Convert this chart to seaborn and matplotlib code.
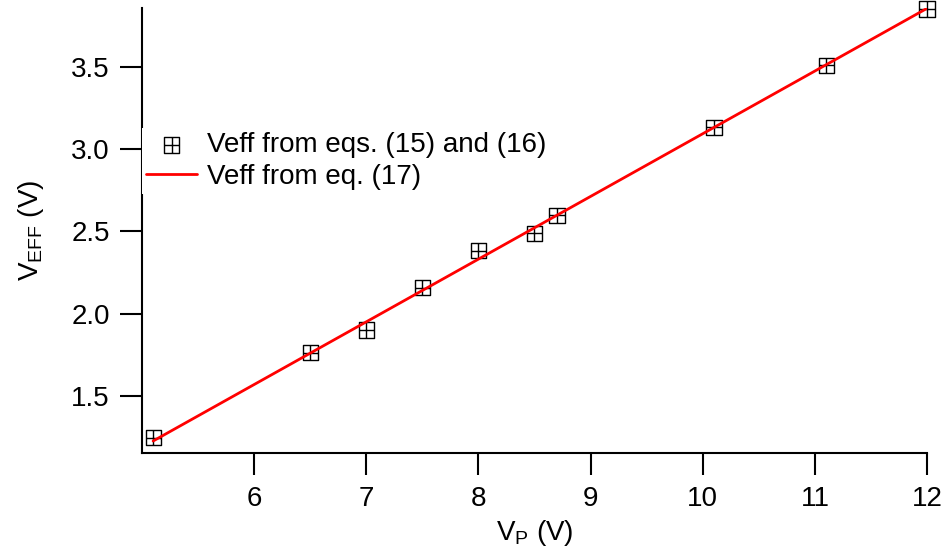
import numpy as np
import pandas as pd
import matplotlib
matplotlib.use("Agg")
import matplotlib.pyplot as plt
from matplotlib.path import Path
import seaborn as sns

# Measured points (eqs. 15 and 16)
vp_points = [5.1, 6.5, 7.0, 7.5, 8.0, 8.5, 8.7, 10.1, 11.1, 12.0]
veff_points = [1.244, 1.762, 1.90, 2.159, 2.384, 2.488, 2.598, 3.134, 3.512, 3.854]

# Model line (eq. 17)
vp_line = [5.1, 12.0]
veff_line = [1.225, 3.858]

x_ticks = [6, 7, 8, 9, 10, 11, 12]
y_ticks = [1.5, 2.0, 2.5, 3.0, 3.5]

sns.set_theme(style="ticks")
plt.rcParams["font.family"] = ["Liberation Sans", "DejaVu Sans"]
plt.rcParams["mathtext.fontset"] = "custom"
plt.rcParams["mathtext.rm"] = "Liberation Sans"
plt.rcParams["mathtext.it"] = "Liberation Sans"
plt.rcParams["text.color"] = "black"
plt.rcParams["axes.labelcolor"] = "black"
plt.rcParams["xtick.color"] = "black"
plt.rcParams["ytick.color"] = "black"

FS = 20

fig = plt.figure(figsize=(9.46, 5.54), dpi=100)
ax = fig.add_axes([0.150, 0.1823, 0.830, 0.8033])

# square with a cross inside
box_plus = Path(
    [(-1, -1), (1, -1), (1, 1), (-1, 1), (-1, -1),
     (-1, 0), (1, 0), (0, -1), (0, 1)],
    [Path.MOVETO, Path.LINETO, Path.LINETO, Path.LINETO, Path.CLOSEPOLY,
     Path.MOVETO, Path.LINETO, Path.MOVETO, Path.LINETO],
)

pts = pd.DataFrame({"vp": vp_points, "veff": veff_points})
line = pd.DataFrame({"vp": vp_line, "veff": veff_line})

sns.scatterplot(data=pts, x="vp", y="veff", ax=ax, marker=box_plus, s=120,
                facecolors="none", edgecolor="black", linewidths=1.0,
                color="black", label="Veff from eqs. (15) and (16)",
                clip_on=False, zorder=3)
sns.lineplot(data=line, x="vp", y="veff", ax=ax, color="#ff0000", lw=2.0,
             label="Veff from eq. (17)", zorder=4)

ax.set_xlim(5.0, 12.0)
ax.set_ylim(1.152, 3.86)
ax.set_xticks(x_ticks)
ax.set_xticklabels([str(t) for t in x_ticks])
ax.set_yticks(y_ticks)
ax.set_yticklabels([f"{t:.1f}" for t in y_ticks])

for side in ("top", "right"):
    ax.spines[side].set_visible(False)
for side in ("left", "bottom"):
    ax.spines[side].set_linewidth(1.5)
    ax.spines[side].set_color("black")

ax.tick_params(axis="both", direction="out", length=16, width=1.5,
               colors="black", labelsize=FS)
ax.tick_params(axis="x", pad=8)
ax.tick_params(axis="y", pad=7)

ax.set_xlabel("V$_\\mathrm{P}$ (V)", fontsize=FS, labelpad=4, color="black")
ax.set_ylabel("V$_\\mathrm{EFF}$ (V)", fontsize=FS, labelpad=18, color="black")

leg = ax.legend(loc="center left", bbox_to_anchor=(0.0, 0.656),
                borderaxespad=0.0, fontsize=FS, frameon=True,
                facecolor="white", edgecolor="none", framealpha=1.0,
                handlelength=1.85, handletextpad=0.36, labelspacing=0.2,
                borderpad=0.15, fancybox=False)
leg.set_zorder(10)
for t in leg.get_texts():
    t.set_color("black")

fig.savefig("out.png", dpi=100, facecolor="white")
